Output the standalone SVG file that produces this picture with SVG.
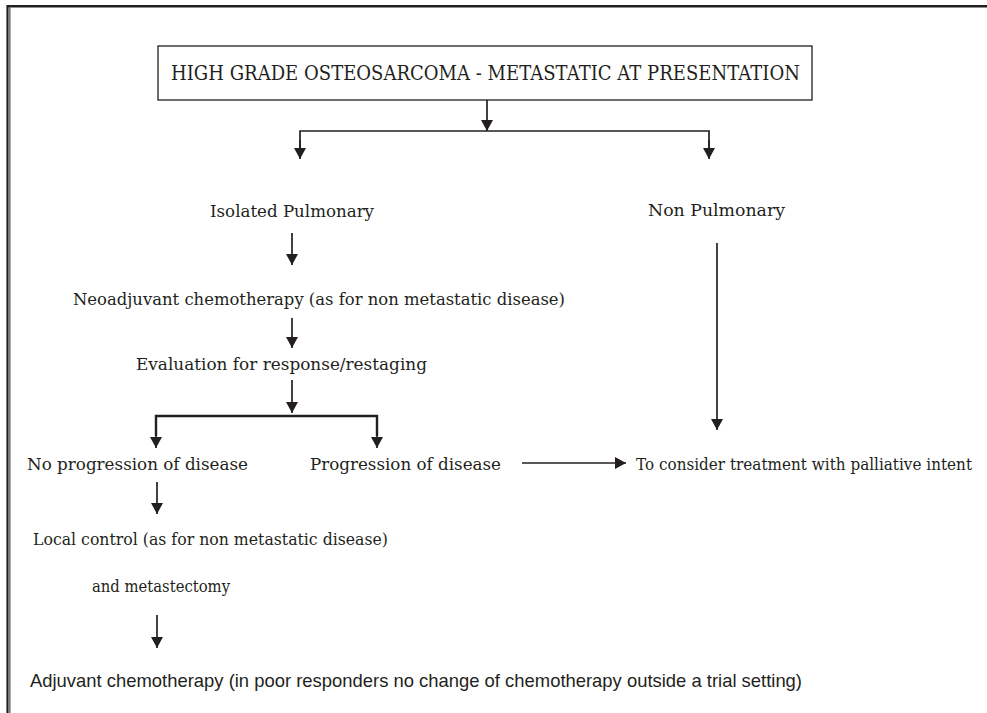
<svg xmlns="http://www.w3.org/2000/svg" width="987" height="713" viewBox="0 0 987 713">
  <style>
    .t { font-family: "DejaVu Serif", "Liberation Serif", serif; font-size: 16.5px; fill: #231f20; }
    .title { font-family: "DejaVu Serif", "Liberation Serif", serif; font-size: 19.5px; fill: #231f20; }
    .cond { font-family: "Liberation Sans Narrow", "Liberation Sans", sans-serif; font-size: 19px; fill: #231f20; }
    .ln { stroke: #231f20; stroke-width: 1.7; fill: none; }
    .ln2 { stroke: #231f20; stroke-width: 2.4; fill: none; }
    .box { stroke: #231f20; stroke-width: 1.3; fill: #fff; }
  </style>
  <defs>
    <marker id="ah" viewBox="0 0 11 12" refX="11" refY="6" markerWidth="11" markerHeight="12" markerUnits="userSpaceOnUse" orient="auto">
      <path d="M0,0 L11,6 L0,12 Z" fill="#231f20"/>
    </marker>
  </defs>
  <rect width="987" height="713" fill="#fff"/>
  <!-- page frame: top rule and doubled left rule -->
  <g id="frame">
    <line x1="7" y1="6.2" x2="987" y2="6.2" stroke="#231f20" stroke-width="2.6"/>
    <line x1="7.5" y1="5" x2="7.5" y2="713" stroke="#231f20" stroke-width="2.2"/>
    <line x1="9.8" y1="7" x2="9.8" y2="713" stroke="#777" stroke-width="1.6"/>
  </g>

  <g id="title">
    <rect class="box" x="158" y="46" width="654" height="54"/>
    <text class="title" x="171" y="80" textLength="629" lengthAdjust="spacingAndGlyphs">HIGH GRADE OSTEOSARCOMA - METASTATIC AT PRESENTATION</text>
  </g>
  <g id="isolated"><text class="t" x="210" y="217" textLength="164" lengthAdjust="spacingAndGlyphs">Isolated Pulmonary</text></g>
  <g id="nonpulm"><text class="t" x="648" y="216" textLength="137" lengthAdjust="spacingAndGlyphs">Non Pulmonary</text></g>
  <g id="neoadj"><text class="t" x="73" y="305" textLength="492" lengthAdjust="spacingAndGlyphs">Neoadjuvant chemotherapy (as for non metastatic disease)</text></g>
  <g id="evaluation"><text class="t" x="136" y="370" textLength="291" lengthAdjust="spacingAndGlyphs">Evaluation for response/restaging</text></g>
  <g id="noprog"><text class="t" x="27" y="470" textLength="221" lengthAdjust="spacingAndGlyphs">No progression of disease</text></g>
  <g id="prog"><text class="t" x="310" y="470" textLength="191" lengthAdjust="spacingAndGlyphs">Progression of disease</text></g>
  <g id="palliative"><text class="t" transform="translate(636,470) scale(0.875,1)" x="0" y="0" textLength="384" lengthAdjust="spacingAndGlyphs">To consider treatment with palliative intent</text></g>
  <g id="local">
    <text class="t" x="33" y="545" textLength="355" lengthAdjust="spacingAndGlyphs">Local control (as for non metastatic disease)</text>
    <text class="t" x="92" y="592" textLength="138" lengthAdjust="spacingAndGlyphs">and metastectomy</text>
  </g>
  <g id="adjuvant"><text class="cond" x="30" y="687" textLength="772" lengthAdjust="spacingAndGlyphs">Adjuvant chemotherapy (in poor responders no change of chemotherapy outside a trial setting)</text></g>

  <g id="connectors">
    <line class="ln" x1="487" y1="100" x2="487" y2="131" marker-end="url(#ah)"/>
    <polyline class="ln" points="300,150 300,131 709,131 709,150"/>
    <line class="ln" x1="300" y1="140" x2="300" y2="159" marker-end="url(#ah)"/>
    <line class="ln" x1="709" y1="140" x2="709" y2="159" marker-end="url(#ah)"/>
    <line class="ln" x1="292" y1="233" x2="292" y2="265" marker-end="url(#ah)"/>
    <line class="ln" x1="292" y1="318" x2="292" y2="348" marker-end="url(#ah)"/>
    <line class="ln" x1="292" y1="380" x2="292" y2="413" marker-end="url(#ah)"/>
    <polyline class="ln2" points="156,436 156,416 377,416 377,436"/>
    <line class="ln" x1="156" y1="430" x2="156" y2="448" marker-end="url(#ah)"/>
    <line class="ln" x1="377" y1="430" x2="377" y2="448" marker-end="url(#ah)"/>
    <line class="ln" x1="717" y1="243" x2="717" y2="430" marker-end="url(#ah)"/>
    <line class="ln" x1="522" y1="463" x2="626" y2="463" marker-end="url(#ah)"/>
    <line class="ln" x1="157" y1="482" x2="157" y2="514" marker-end="url(#ah)"/>
    <line class="ln" x1="157" y1="615" x2="157" y2="648" marker-end="url(#ah)"/>
  </g>
</svg>
